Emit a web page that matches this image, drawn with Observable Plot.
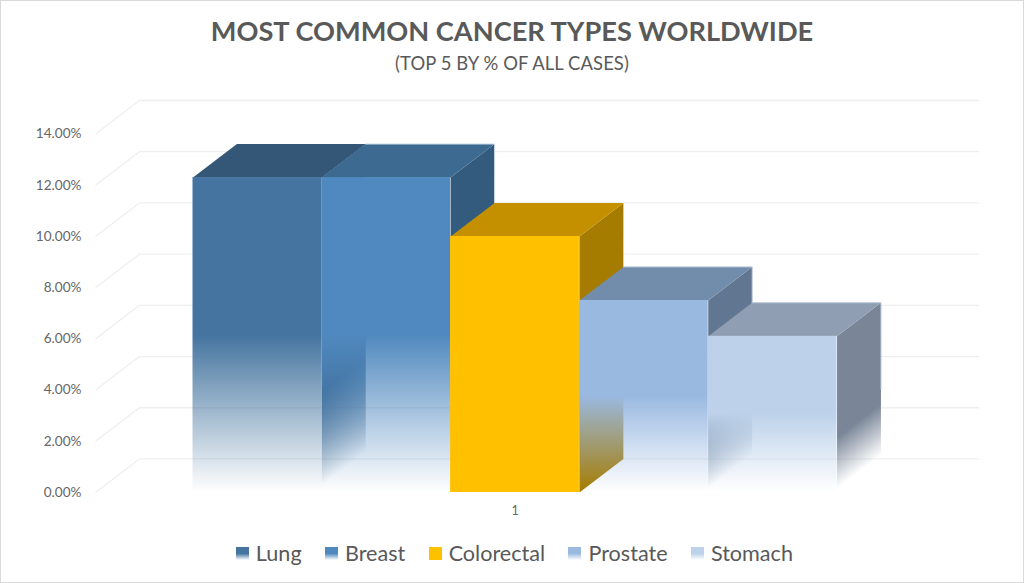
<!DOCTYPE html>
<html>
<head>
<meta charset="utf-8">
<script src="https://cdn.jsdelivr.net/npm/d3@7"></script>
<script src="https://cdn.jsdelivr.net/npm/@observablehq/plot@0.6"></script>
<style>
  html, body { margin: 0; padding: 0; background: #fff; }
  #chart { position: relative; width: 1024px; height: 583px; overflow: hidden; background: #fff;
           outline: 1.5px solid #d9d9d9; outline-offset: -1.5px; font-family: Lato, sans-serif; color: #595959; }
  #title { height: 50px; padding-top: 13px; box-sizing: border-box; text-align: center; font-size: 27.2px; line-height: 36px; font-weight: 700; color: #595959; }
  #subtitle { height: 35px; box-sizing: border-box; text-align: center; font-size: 18.4px; letter-spacing: 0.1px; line-height: 27px; color: #595959; }
  svg { display: block; }
  #legend { display: flex; justify-content: center; align-items: center; gap: 23.3px; padding-left: 4.8px; font-size: 21.6px; line-height: 28px; color: #595959; margin-top: 14px; }
  #legend .item { display: flex; align-items: center; gap: 7px; }
  #legend .sw { width: 13px; height: 13px; display: inline-block; }
</style>
</head>
<body>
<div id="chart">
  <div id="title"></div>
  <div id="subtitle"></div>
  <div id="plot"></div>
  <div id="legend"></div>
</div>
<script>
const titleText = "MOST COMMON CANCER TYPES WORLDWIDE";
const subtitleText = "(TOP 5 BY % OF ALL CASES)";
const categories = ["Lung", "Breast", "Colorectal", "Prostate", "Stomach"];
const values = [12.3, 12.3, 10.0, 7.5, 6.1];
const frontColors = ["#44749f", "#5089bf", "#ffc000", "#9ab9e1", "#bdd2ea"];
const topColors = ["#345778", "#3c6a90", "#c49000", "#728cab", "#8f9eb2"];
const sideColors = ["#2f5475", "#335b7d", "#a67c00", "#617791", "#7a8698"];
const edgeColors = [null, "#c8d6e6", null, "#b4c2d6", "#b4c2d6"];
const faded = [true, true, false, true, true];
const yTicks = [0, 2, 4, 6, 8, 10, 12, 14];
const groupLabel = "1";
const groupCenter = 2.5;

// 3D box depth, in data units of the x and y scales
const depthX = 0.341;
const depthY = 1.31;
const xDomain = [-0.757, 6.106];
const wallLeft = xDomain[0] + depthX;

const bars = categories.map((name, i) => ({
  name, i, value: values[i], x0: i, x1: i + 1,
  front: frontColors[i], top: topColors[i], side: sideColors[i], edge: edgeColors[i], faded: faded[i]
}));

function defs() {
  const d = d3.create("svg:defs");
  for (const b of bars) {
    if (!b.faded) continue;
    const fg = d.append("linearGradient").attr("id", "front" + b.i)
      .attr("x1", 0).attr("y1", 0).attr("x2", 0).attr("y2", 1);
    fg.append("stop").attr("offset", "50%").attr("stop-color", b.front);
    fg.append("stop").attr("offset", "100%").attr("stop-color", b.front).attr("stop-opacity", 0);
    // side fade runs parallel to the receding bottom edge
    const s = depthY / (b.value + depthY);
    const k = 1 / (1 + s * s);
    const sg = d.append("linearGradient").attr("id", "side" + b.i)
      .attr("x1", 0).attr("y1", 0).attr("x2", k * s).attr("y2", k);
    sg.append("stop").attr("offset", "71%").attr("stop-color", b.side);
    sg.append("stop").attr("offset", "98%").attr("stop-color", b.side).attr("stop-opacity", 0);
  }
  return d.node();
}

const marks = [
  defs,
  Plot.ruleY(yTicks, {y: d => d + depthY, x1: wallLeft, x2: xDomain[1], stroke: "#efefef", strokeWidth: 1.3}),
  Plot.link(yTicks, {x1: xDomain[0], y1: d => d, x2: wallLeft, y2: d => d + depthY, stroke: "#efefef", strokeWidth: 1.3}),
  Plot.axisY({ticks: yTicks, anchor: "left", tickSize: 0, tickPadding: 14, tickFormat: d => d.toFixed(2) + "%",
    fontSize: 13.6, fill: "#666666", label: null}),
  Plot.axisX({ticks: [groupCenter], anchor: "bottom", tickSize: 0, tickPadding: 14, tickFormat: () => groupLabel,
    fontSize: 12.5, fill: "#666666", label: null})
];

for (const b of bars) {
  const side = [
    {x: b.x1, y: 0}, {x: b.x1 + depthX, y: depthY},
    {x: b.x1 + depthX, y: b.value + depthY}, {x: b.x1, y: b.value}
  ];
  const top = [
    {x: b.x0, y: b.value}, {x: b.x1, y: b.value},
    {x: b.x1 + depthX, y: b.value + depthY}, {x: b.x0 + depthX, y: b.value + depthY}
  ];
  marks.push(
    Plot.line(side, {x: "x", y: "y", curve: "linear-closed", stroke: "none", fill: b.faded ? `url(#side${b.i})` : b.side}),
    Plot.line(top, {x: "x", y: "y", curve: "linear-closed", stroke: "none", fill: b.top})
  );
  if (b.edge) {
    marks.push(Plot.line([top[3], top[2], {x: b.x1 + depthX, y: b.value * 0.45 + depthY}],
      {x: "x", y: "y", stroke: b.edge, strokeWidth: 1}));
  }
  marks.push(Plot.rect([b], {x1: "x0", x2: "x1", y1: 0, y2: "value", fill: b.faded ? `url(#front${b.i})` : b.front}));
}

const chart = Plot.plot({
  width: 1024,
  height: 440,
  marginLeft: 95,
  marginRight: 45,
  marginTop: 15,
  marginBottom: 33,
  style: {background: "transparent", fontFamily: "Lato, sans-serif"},
  x: {domain: xDomain, axis: null},
  y: {domain: [0, 14 + depthY], axis: null},
  marks
});

document.getElementById("title").textContent = titleText;
document.getElementById("subtitle").textContent = subtitleText;
document.getElementById("plot").appendChild(chart);
const legend = d3.select("#legend");
for (const b of bars) {
  const item = legend.append("div").attr("class", "item");
  item.append("span").attr("class", "sw").style("background",
    b.faded ? `linear-gradient(to bottom, ${b.front} 50%, #ffffff 100%)` : b.front);
  item.append("span").text(b.name);
}
</script>
</body>
</html>
